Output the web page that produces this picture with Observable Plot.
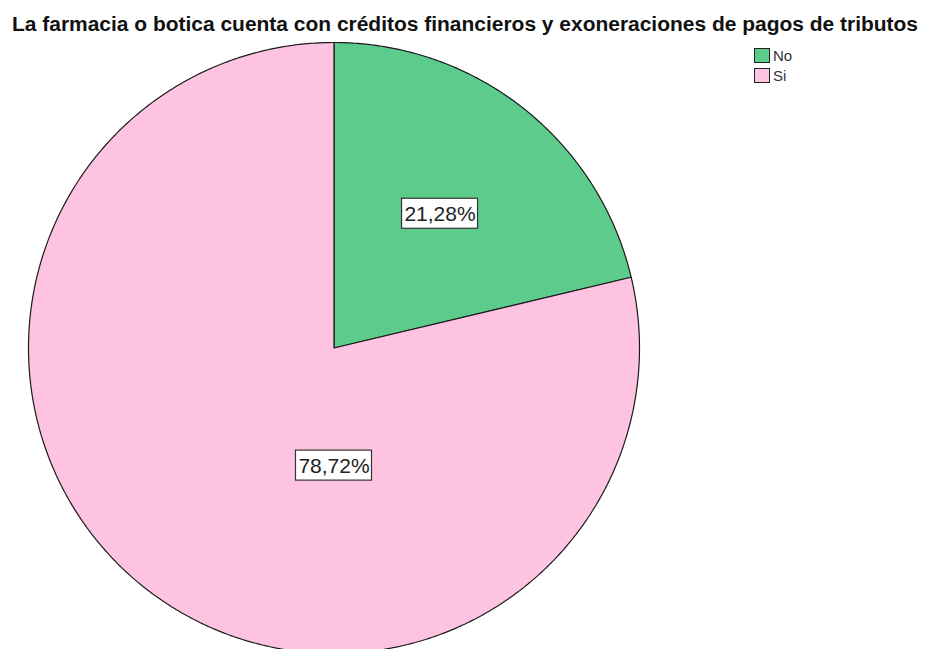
<!DOCTYPE html>
<html>
<head>
<meta charset="utf-8">
<script src="https://cdn.jsdelivr.net/npm/d3@7"></script>
<script src="https://cdn.jsdelivr.net/npm/@observablehq/plot@0.6"></script>
<style>
  html, body { margin: 0; padding: 0; background: #fff; }
  #wrap { position: relative; width: 928px; height: 649px; overflow: hidden; font-family: "Liberation Sans", Arial, sans-serif; }
  #title { position: absolute; left: 12px; top: 14px; font-weight: bold; font-size: 20px; color: #111; white-space: nowrap; line-height: 1; transform-origin: 0 0; }
  #legend { position: absolute; left: 754px; top: 45px; font-size: 15px; color: #333; }
  .item { display: flex; align-items: center; height: 20px; }
  .sw { width: 16px; height: 15px; border: 1px solid #222; box-sizing: border-box; margin-right: 3px; }
  svg { position: absolute; left: 0; top: 0; }
</style>
</head>
<body>
<div id="wrap">
  <div id="title"></div>
  <div id="legend"></div>
</div>
<script>
const title = "La farmacia o botica cuenta con créditos financieros y exoneraciones de pagos de tributos";
const categories = ["No", "Si"];
const percents = [21.28, 78.72];
const valueLabels = ["21,28%", "78,72%"];
const colors = ["#5CCB8B", "#FDC3E1"];

const rows = categories.map((c, i) => ({cat: c, pct: percents[i], label: valueLabels[i]}));
const arcs = d3.pie().sort(null).value(d => d.pct).startAngle(0).endAngle(2 * Math.PI)(rows);

// slice outlines in unit-circle coordinates (clockwise from top)
const slicePts = [];
arcs.forEach(a => {
  slicePts.push({cat: a.data.cat, x: 0, y: 0});
  const n = Math.max(2, Math.ceil((a.endAngle - a.startAngle) / (Math.PI / 360)));
  for (let k = 0; k <= n; k++) {
    const t = a.startAngle + (a.endAngle - a.startAngle) * k / n;
    slicePts.push({cat: a.data.cat, x: Math.sin(t), y: Math.cos(t)});
  }
  slicePts.push({cat: a.data.cat, x: 0, y: 0});
});

// label placement
const R = 305.5; // px per unit
const labels = arcs.map((a, i) => {
  const ang = i === 0 ? (a.startAngle + a.endAngle) / 2 : Math.PI;
  const r = i === 0 ? 0.56 : 0.385;
  return {label: a.data.label, x: r * Math.sin(ang), y: r * Math.cos(ang)};
});
const bw = 76 / R, bh = 30 / R;

const chart = Plot.plot({
  width: 928,
  height: 649,
  margin: 0,
  x: {domain: [-1, 1], range: [28, 639], axis: null},
  y: {domain: [-1, 1], range: [653, 42], axis: null},
  color: {domain: categories, range: colors},
  style: {background: "transparent", fontFamily: "Liberation Sans, Arial, sans-serif"},
  marks: [
    Plot.line(slicePts, {x: "x", y: "y", z: "cat", fill: "cat", stroke: "#1a1a1a", strokeWidth: 1.2, strokeLinejoin: "miter", curve: "linear"}),
    Plot.rect(labels, {x1: d => d.x - bw / 2, x2: d => d.x + bw / 2, y1: d => d.y - bh / 2, y2: d => d.y + bh / 2, fill: "white", stroke: "#333", strokeWidth: 1.2}),
    Plot.text(labels, {x: "x", y: "y", text: "label", fontSize: 21, fill: "#222", dy: 1})
  ]
});
document.getElementById("wrap").appendChild(chart);
const t = document.getElementById("title");
t.textContent = title;
document.getElementById("wrap").appendChild(t);
const w = t.getBoundingClientRect().width;
t.style.transform = `scaleX(${906 / w})`;
const lg = document.getElementById("legend");
categories.forEach((c, i) => {
  const it = document.createElement("div");
  it.className = "item";
  it.innerHTML = `<div class="sw" style="background:${colors[i]}"></div><span>${c}</span>`;
  lg.appendChild(it);
});
document.getElementById("wrap").appendChild(lg);
</script>
</body>
</html>
